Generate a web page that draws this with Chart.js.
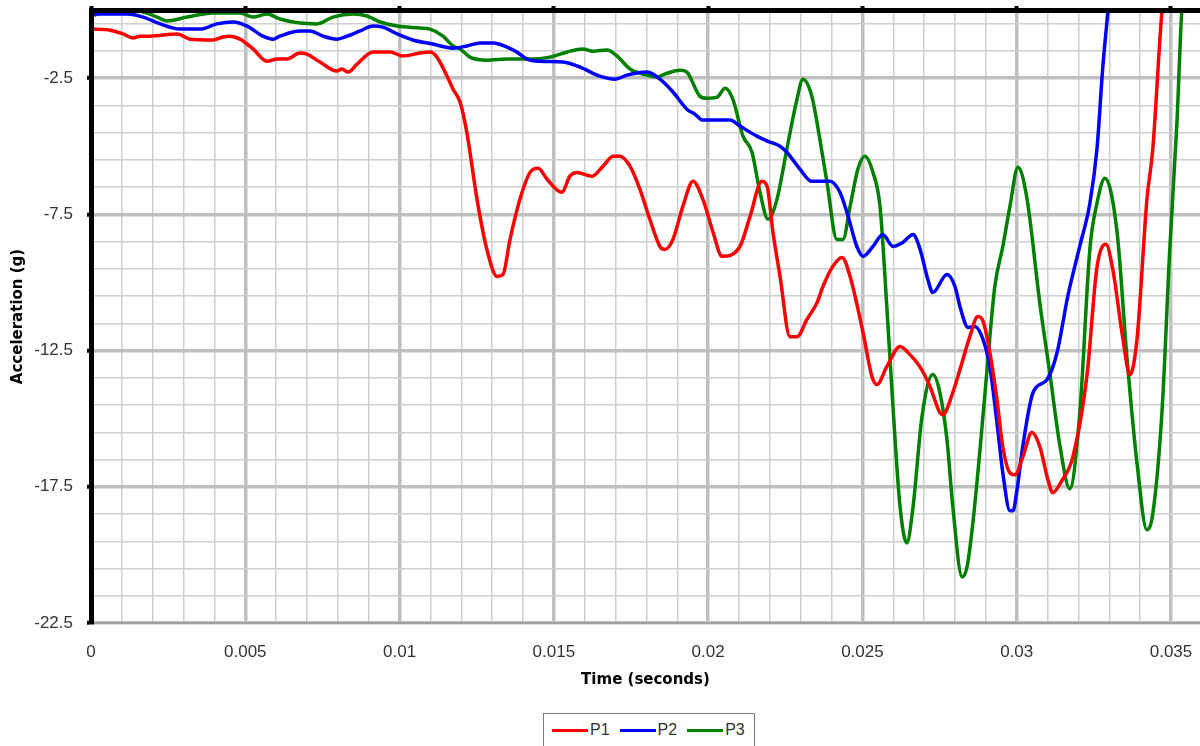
<!DOCTYPE html>
<html>
<head>
<meta charset="utf-8">
<title>Acceleration vs Time</title>
<script src="https://cdn.jsdelivr.net/npm/chart.js@4.4.1/dist/chart.umd.min.js"></script>
<style>
  html, body { margin: 0; padding: 0; background: #fff; overflow: hidden; }
  #wrap { position: relative; width: 1200px; height: 746px; }
  #legend {
    position: absolute; left: 543px; top: 713px; width: 212px; height: 44px;
    box-sizing: border-box; border: 1.5px solid #7a7a7a; background: #fff;
    font: 16px 'Liberation Sans', Arial, sans-serif; color: #333;
    display: flex; align-items: flex-start; padding: 6px 0 0 8px;
  }
  .item { display: flex; align-items: center; height: 20px; margin-right: 10px; }
  .swatch { width: 36px; height: 3px; margin-right: 2px; }
</style>
</head>
<body>
<div id="wrap">
  <canvas id="chart" width="1200" height="746"></canvas>
  <div id="legend"></div>
</div>
<script>
// Time (s) and acceleration (g) samples for the three channels
const p1Time = [0, 0.00062, 0.00104, 0.00136, 0.00159, 0.00191, 0.00279, 0.00321, 0.00395, 0.00428, 0.00450, 0.00483, 0.00525, 0.00570, 0.00603, 0.00635, 0.00677, 0.00700, 0.00742, 0.00797, 0.00813, 0.00833, 0.00862, 0.00914, 0.00969, 0.01011, 0.01066, 0.01099, 0.01121, 0.01154, 0.01173, 0.01196, 0.01218, 0.01251, 0.01283, 0.01316, 0.01335, 0.01358, 0.01390, 0.01423, 0.01449, 0.01478, 0.01526, 0.01552, 0.01575, 0.01624, 0.01659, 0.01692, 0.01714, 0.01747, 0.01779, 0.01811, 0.01844, 0.01860, 0.01886, 0.01918, 0.01951, 0.01983, 0.02016, 0.02045, 0.02103, 0.02136, 0.02174, 0.02191, 0.02210, 0.02233, 0.02265, 0.02288, 0.02320, 0.02353, 0.02372, 0.02404, 0.02434, 0.02460, 0.02502, 0.02531, 0.02547, 0.02579, 0.02622, 0.02654, 0.02686, 0.02719, 0.02751, 0.02761, 0.02793, 0.02816, 0.02848, 0.02874, 0.02891, 0.02913, 0.02936, 0.02955, 0.02978, 0.02994, 0.03020, 0.03049, 0.03075, 0.03101, 0.03117, 0.03144, 0.03182, 0.03228, 0.03260, 0.03289, 0.03312, 0.03344, 0.03367, 0.03390, 0.03422, 0.03441, 0.03471, 0.03484];
const p1Accel = [-0.70, -0.74, -0.88, -1.03, -0.96, -0.96, -0.88, -1.07, -1.10, -0.99, -0.96, -1.07, -1.43, -1.88, -1.80, -1.80, -1.58, -1.62, -1.91, -2.24, -2.17, -2.28, -1.99, -1.54, -1.54, -1.69, -1.58, -1.54, -1.73, -2.43, -2.90, -3.38, -4.49, -6.95, -8.79, -9.78, -9.71, -8.42, -6.95, -5.96, -5.81, -6.21, -6.69, -6.10, -5.96, -6.10, -5.74, -5.37, -5.37, -5.74, -6.58, -7.68, -8.68, -8.79, -8.42, -7.21, -6.29, -6.95, -8.16, -9.04, -8.68, -7.57, -6.29, -6.47, -8.16, -9.78, -11.99, -11.99, -11.36, -10.74, -10.15, -9.41, -9.08, -9.78, -11.84, -13.46, -13.75, -13.09, -12.35, -12.65, -13.09, -13.82, -14.78, -14.85, -14.04, -13.20, -11.99, -11.25, -11.43, -12.57, -14.30, -16.03, -16.99, -17.06, -16.40, -15.51, -16.03, -17.24, -17.72, -17.32, -16.40, -13.38, -9.45, -8.60, -9.56, -12.06, -13.38, -12.06, -6.95, -5.11, 0, 1.1];

const p2Time = [0, 0.00117, 0.00169, 0.00224, 0.00288, 0.00353, 0.00408, 0.00460, 0.00506, 0.00557, 0.00590, 0.00612, 0.00677, 0.00710, 0.00752, 0.00797, 0.00830, 0.00872, 0.00914, 0.00946, 0.00992, 0.01043, 0.01108, 0.01173, 0.01218, 0.01261, 0.01303, 0.01348, 0.01380, 0.01413, 0.01455, 0.01530, 0.01585, 0.01649, 0.01698, 0.01737, 0.01802, 0.01844, 0.01886, 0.01931, 0.01957, 0.01983, 0.02071, 0.02103, 0.02158, 0.02194, 0.02233, 0.02255, 0.02298, 0.02336, 0.02395, 0.02427, 0.02450, 0.02482, 0.02502, 0.02534, 0.02566, 0.02599, 0.02631, 0.02664, 0.02686, 0.02712, 0.02728, 0.02774, 0.02800, 0.02816, 0.02842, 0.02865, 0.02891, 0.02913, 0.02936, 0.02955, 0.02978, 0.02988, 0.03001, 0.03020, 0.03053, 0.03098, 0.03130, 0.03166, 0.03205, 0.03237, 0.03260, 0.03279, 0.03296, 0.03305];
const p2Accel = [-0.15, -0.15, -0.26, -0.51, -0.70, -0.70, -0.51, -0.44, -0.59, -0.96, -1.07, -0.96, -0.77, -0.77, -0.96, -1.07, -0.96, -0.77, -0.59, -0.63, -0.88, -1.10, -1.25, -1.40, -1.32, -1.21, -1.21, -1.36, -1.54, -1.80, -1.88, -1.91, -2.10, -2.43, -2.54, -2.39, -2.28, -2.54, -3.01, -3.64, -3.82, -4.04, -4.04, -4.26, -4.63, -4.82, -5.00, -5.22, -5.85, -6.29, -6.29, -6.69, -7.43, -8.68, -9.04, -8.68, -8.24, -8.68, -8.53, -8.24, -8.75, -9.89, -10.37, -9.71, -10.15, -10.88, -11.65, -11.62, -12.10, -13.09, -15.15, -16.99, -18.38, -18.38, -17.61, -15.99, -14.04, -13.57, -12.61, -10.48, -8.64, -7.10, -5.11, -2.10, 0, 1.1];

const p3Time = [0, 0.00062, 0.00136, 0.00182, 0.00214, 0.00246, 0.00311, 0.00395, 0.00483, 0.00525, 0.00570, 0.00612, 0.00677, 0.00732, 0.00784, 0.00849, 0.00894, 0.00937, 0.00992, 0.01066, 0.01099, 0.01141, 0.01173, 0.01196, 0.01228, 0.01283, 0.01348, 0.01423, 0.01487, 0.01543, 0.01594, 0.01627, 0.01672, 0.01705, 0.01747, 0.01789, 0.01834, 0.01867, 0.01909, 0.01931, 0.01973, 0.01996, 0.02029, 0.02055, 0.02080, 0.02113, 0.02142, 0.02168, 0.02194, 0.02223, 0.02255, 0.02288, 0.02307, 0.02336, 0.02362, 0.02385, 0.02417, 0.02437, 0.02460, 0.02485, 0.02508, 0.02534, 0.02557, 0.02579, 0.02599, 0.02622, 0.02644, 0.02664, 0.02693, 0.02728, 0.02751, 0.02774, 0.02793, 0.02823, 0.02839, 0.02858, 0.02881, 0.02903, 0.02929, 0.02955, 0.02978, 0.03004, 0.03033, 0.03075, 0.03108, 0.03140, 0.03172, 0.03205, 0.03237, 0.03260, 0.03286, 0.03325, 0.03357, 0.03390, 0.03422, 0.03441, 0.03471, 0.03496, 0.03519, 0.03535, 0.03545];
const p3Accel = [-0.22, -0.04, -0.02, -0.11, -0.26, -0.40, -0.26, -0.11, -0.11, -0.26, -0.15, -0.33, -0.48, -0.51, -0.26, -0.15, -0.22, -0.44, -0.59, -0.66, -0.70, -0.96, -1.32, -1.43, -1.73, -1.84, -1.80, -1.80, -1.73, -1.54, -1.43, -1.51, -1.47, -1.69, -2.17, -2.35, -2.46, -2.32, -2.21, -2.28, -3.16, -3.24, -3.20, -2.87, -3.27, -4.63, -5.22, -6.69, -7.68, -6.95, -5.11, -3.27, -2.54, -3.16, -4.74, -6.32, -8.42, -8.42, -7.21, -5.85, -5.37, -5.96, -7.21, -10.88, -14.56, -18.24, -19.56, -18.24, -14.93, -13.38, -14.04, -15.77, -18.24, -20.81, -20.44, -18.82, -16.14, -13.31, -10.15, -8.68, -7.21, -5.77, -6.90, -10.77, -13.38, -15.99, -17.57, -14.71, -8.79, -7.10, -6.18, -8.13, -12.72, -16.65, -19.08, -18.49, -14.71, -8.79, -4.19, 0, 1.1];

const seriesNames = ['P1', 'P2', 'P3'];
const seriesColors = ['#ff0000', '#0000ff', '#008000'];

// Labelled axis ticks
const xMajorTicks = [0, 0.005, 0.01, 0.015, 0.02, 0.025, 0.03, 0.035];
const xTickLabels = ['0', '0.005', '0.01', '0.015', '0.02', '0.025', '0.03', '0.035'];
const yMajorTicks = [-22.5, -17.5, -12.5, -7.5, -2.5];
const yTickLabels = ['-22.5', '-17.5', '-12.5', '-7.5', '-2.5'];

// Axis ranges and minor grid spacing
const xMin = 0, xMax = 0.03594, xGridStep = 0.001;
const yMin = -22.5, yMax = 0, yGridStep = 1;

const xGridValues = [];
for (let k = 0; xMin + k * xGridStep <= 0.0355; k++) xGridValues.push(+(xMin + k * xGridStep).toFixed(4));
const yGridValues = [];
for (let k = 0; yMin + k * yGridStep < yMax; k++) yGridValues.push(yMin + k * yGridStep);

const majorIndex = (v, list) => list.findIndex(m => Math.abs(m - v) < 1e-7);

const MAJOR_GRID = '#bfbfbf', MINOR_GRID = '#cfcfcf';
const titleFont = { family: "'DejaVu Sans', sans-serif", size: 15, weight: 'bold' };
const tickFont = { family: "'Liberation Sans', Arial, sans-serif", size: 17 };

const toPoints = (ts, vs) => ts.map((t, i) => ({ x: t, y: vs[i] }));
const seriesData = [toPoints(p1Time, p1Accel), toPoints(p2Time, p2Accel), toPoints(p3Time, p3Accel)];

const datasets = seriesNames.map((name, i) => ({
  label: name,
  data: seriesData[i],
  borderColor: seriesColors[i],
  backgroundColor: seriesColors[i],
  borderWidth: 3.5,
  pointRadius: 0,
  cubicInterpolationMode: 'monotone',
  fill: false,
  clip: 0
}));

const xGridColor = (c) => c.tick && majorIndex(c.tick.value, xMajorTicks) >= 0 ? MAJOR_GRID : MINOR_GRID;
const xGridWidth = (c) => c.tick && majorIndex(c.tick.value, xMajorTicks) >= 0 ? 3.5 : 1.5;
const xTickMark = (c) => c.tick && majorIndex(c.tick.value, xMajorTicks) >= 0 ? '#000' : 'rgba(0,0,0,0)';

// Keep the plot area flush with the frame: no extra room for edge labels
const noEdgePadding = (s) => { s.paddingLeft = 0; s.paddingRight = 0; s.paddingTop = 0; s.paddingBottom = 0; };

Chart.defaults.font.family = "'Liberation Sans', Arial, sans-serif";

const chart = new Chart(document.getElementById('chart'), {
  type: 'line',
  data: { datasets },
  options: {
    responsive: false,
    devicePixelRatio: 1,
    animation: false,
    events: [],
    layout: { padding: { top: 6, right: 0, bottom: 57, left: 0 } },
    plugins: { legend: { display: false }, tooltip: { enabled: false } },
    scales: {
      x: {
        type: 'linear',
        position: 'bottom',
        min: xMin, max: xMax,
        afterBuildTicks: (s) => { s.ticks = xGridValues.map(v => ({ value: v })); },
        afterFit: (s) => { s.height = 66; noEdgePadding(s); },
        ticks: {
          autoSkip: false, maxRotation: 0, minRotation: 0,
          padding: 19, color: '#333', font: tickFont,
          callback: (v) => { const i = majorIndex(v, xMajorTicks); return i >= 0 ? xTickLabels[i] : ''; }
        },
        grid: { color: xGridColor, lineWidth: xGridWidth, drawTicks: false },
        border: { color: '#a0a0a0', width: 2 },
        title: { display: true, text: 'Time (seconds)', color: '#000', font: titleFont, padding: { top: 0, bottom: 0 } }
      },
      xTop: {
        type: 'linear',
        position: 'top',
        min: xMin, max: xMax,
        afterBuildTicks: (s) => { s.ticks = xGridValues.map(v => ({ value: v })); },
        afterFit: (s) => { s.height = 4; noEdgePadding(s); },
        ticks: { display: false },
        grid: { drawOnChartArea: false, drawTicks: true, tickLength: 4, tickWidth: 4, tickColor: xTickMark },
        border: { color: '#000', width: 5, z: 1 }
      },
      y: {
        type: 'linear',
        position: 'left',
        min: yMin, max: yMax,
        afterBuildTicks: (s) => { s.ticks = yGridValues.map(v => ({ value: v })); },
        afterFit: (s) => { s.width = 91; noEdgePadding(s); },
        ticks: {
          autoSkip: false, padding: 14, color: '#333', font: tickFont,
          callback: (v) => { const i = majorIndex(v, yMajorTicks); return i >= 0 ? yTickLabels[i] : ''; }
        },
        grid: {
          color: (c) => c.tick && majorIndex(c.tick.value, yMajorTicks) >= 0 ? MAJOR_GRID : MINOR_GRID,
          lineWidth: (c) => c.tick && majorIndex(c.tick.value, yMajorTicks) >= 0 ? 3.5 : 1.5,
          drawTicks: true, tickLength: 4, tickWidth: 4,
          tickColor: (c) => c.tick && majorIndex(c.tick.value, yMajorTicks) >= 0 ? '#000' : 'rgba(0,0,0,0)'
        },
        border: { color: '#000', width: 5, z: 1 },
        title: { display: true, text: 'Acceleration (g)', color: '#000', font: titleFont, padding: { top: 9, bottom: 0 } }
      }
    }
  }
});

// Legend built from the chart's datasets
const legendEl = document.getElementById('legend');
chart.data.datasets.forEach((ds) => {
  const item = document.createElement('div');
  item.className = 'item';
  const sw = document.createElement('span');
  sw.className = 'swatch';
  sw.style.background = ds.borderColor;
  const txt = document.createElement('span');
  txt.textContent = ds.label;
  item.appendChild(sw);
  item.appendChild(txt);
  legendEl.appendChild(item);
});
</script>
</body>
</html>
